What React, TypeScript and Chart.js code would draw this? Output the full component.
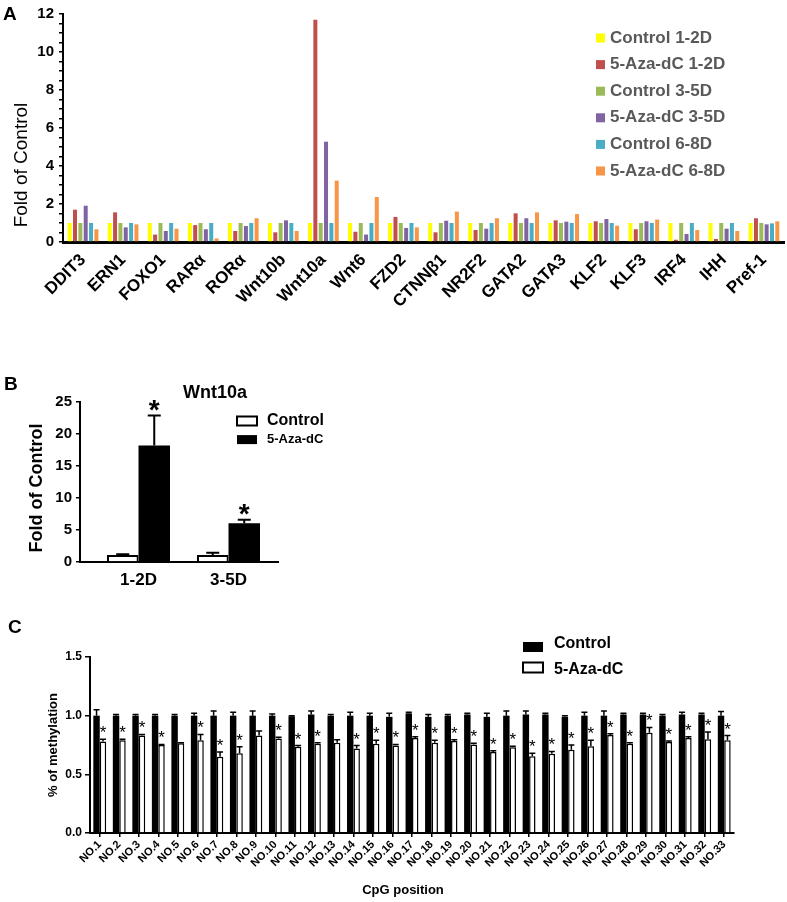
import React, { useEffect, useRef } from 'react';
import { Chart, registerables } from 'chart.js';

Chart.register(...registerables);

const FONT = '"Liberation Sans", Arial, sans-serif';
Chart.defaults.font.family = FONT;
Chart.defaults.color = '#000';

// ---------- Panel A data ----------
const genes = ['DDIT3', 'ERN1', 'FOXO1', 'RARα', 'RORα', 'Wnt10b', 'Wnt10a', 'Wnt6', 'FZD2', 'CTNNβ1', 'NR2F2', 'GATA2', 'GATA3', 'KLF2', 'KLF3', 'IRF4', 'IHH', 'Pref-1'];
const control12 = [1, 1, 1, 1, 1, 1, 1, 1, 1, 1, 1, 1, 1, 1, 1, 1, 1, 1];
const aza12 = [1.7, 1.56, 0.39, 0.89, 0.58, 0.51, 11.7, 0.54, 1.32, 0.51, 0.63, 1.51, 1.14, 1.09, 0.67, 0.12, 0.16, 1.25];
const control35 = [1, 1, 1, 1, 1, 1, 1, 1, 1, 1, 1, 1, 1, 1, 1, 1, 1, 1];
const aza35 = [1.91, 0.77, 0.58, 0.67, 0.84, 1.14, 5.28, 0.39, 0.74, 1.12, 0.7, 1.25, 1.07, 1.21, 1.09, 0.42, 0.7, 0.93];
const control68 = [1, 1, 1, 1, 1, 1, 1, 1, 1, 1, 1, 1, 1, 1, 1, 1, 1, 0.98];
const aza68 = [0.67, 0.93, 0.7, 0.19, 1.25, 0.58, 3.23, 2.37, 0.77, 1.6, 1.25, 1.56, 1.47, 0.86, 1.18, 0.63, 0.58, 1.09];
const seriesA = ['Control 1-2D', '5-Aza-dC 1-2D', 'Control 3-5D', '5-Aza-dC 3-5D', 'Control 6-8D', '5-Aza-dC 6-8D'];

// ---------- Panel B data ----------
const bLabels = ['1-2D', '3-5D'];
const bControl = [1.1, 1.1];
const bControlErr = [0.12, 0.35];
const bAza = [18.2, 6.05];
const bAzaErr = [4.7, 0.55];
const bStarsControl = [false, false];
const bStarsAza = [true, true];

// ---------- Panel C data ----------
const cpgLabels = ['NO.1', 'NO.2', 'NO.3', 'NO.4', 'NO.5', 'NO.6', 'NO.7', 'NO.8', 'NO.9', 'NO.10', 'NO.11', 'NO.12', 'NO.13', 'NO.14', 'NO.15', 'NO.16', 'NO.17', 'NO.18', 'NO.19', 'NO.20', 'NO.21', 'NO.22', 'NO.23', 'NO.24', 'NO.25', 'NO.26', 'NO.27', 'NO.28', 'NO.29', 'NO.30', 'NO.31', 'NO.32', 'NO.33'];
const cControl = [1.0, 1.0, 1.0, 1.0, 1.0, 1.0, 1.0, 1.0, 1.0, 1.0, 0.995, 1.01, 1.0, 1.0, 1.0, 0.99, 1.02, 0.99, 1.0, 1.01, 0.99, 1.0, 1.01, 1.01, 0.99, 1.0, 1.0, 1.01, 1.01, 1.0, 1.01, 1.01, 1.0];
const cControlErr = [0.05, 0.01, 0.01, 0.01, 0.01, 0.02, 0.04, 0.03, 0.04, 0.015, 0.005, 0.03, 0.01, 0.03, 0.02, 0.03, 0.01, 0.02, 0.01, 0.01, 0.03, 0.04, 0.03, 0.01, 0.01, 0.03, 0.04, 0.01, 0.01, 0.01, 0.02, 0.01, 0.035];
const cAza = [0.78, 0.79, 0.83, 0.75, 0.765, 0.79, 0.65, 0.68, 0.83, 0.805, 0.735, 0.76, 0.77, 0.72, 0.76, 0.745, 0.81, 0.77, 0.785, 0.755, 0.69, 0.73, 0.655, 0.675, 0.71, 0.74, 0.835, 0.76, 0.855, 0.775, 0.81, 0.8, 0.79];
const cAzaErr = [0.02, 0.01, 0.01, 0.005, 0.005, 0.05, 0.04, 0.055, 0.04, 0.01, 0.01, 0.01, 0.025, 0.025, 0.03, 0.01, 0.01, 0.02, 0.01, 0.01, 0.01, 0.01, 0.025, 0.02, 0.04, 0.05, 0.01, 0.01, 0.045, 0.01, 0.01, 0.06, 0.04];
const cStars = [true, true, true, true, false, true, true, true, false, true, true, true, false, true, true, true, true, true, true, true, true, true, true, true, true, true, true, true, true, true, true, true, true];

// ---------- plugin: error bars, stars, legend, free texts ----------
const annotate = {
  id: 'annotate',
  afterDatasetsDraw(chart: any, _a: any, opts: any) {
    const ctx = chart.ctx;
    chart.data.datasets.forEach((ds: any, di: number) => {
      if (!ds.errors) return;
      const meta = chart.getDatasetMeta(di);
      const yScale = chart.scales[meta.yAxisID];
      meta.data.forEach((el: any, j: number) => {
        const parsed = meta.controller.getParsed(j);
        const v = parsed.y;
        const yTop = yScale.getPixelForValue(v + ds.errors[j]);
        ctx.save();
        ctx.strokeStyle = '#000';
        ctx.lineWidth = opts.errWidth || 1.5;
        ctx.beginPath();
        ctx.moveTo(el.x, el.y);
        ctx.lineTo(el.x, yTop);
        ctx.moveTo(el.x - opts.cap / 2, yTop);
        ctx.lineTo(el.x + opts.cap / 2, yTop);
        ctx.stroke();
        if (ds.stars && ds.stars[j]) {
          ctx.font = opts.starFont;
          ctx.fillStyle = '#000';
          ctx.textAlign = 'center';
          ctx.textBaseline = 'alphabetic';
          const m = ctx.measureText('*');
          const cy = yTop - opts.starGap;
          ctx.fillText('*', el.x, cy + (m.actualBoundingBoxAscent - m.actualBoundingBoxDescent) / 2);
        }
        ctx.restore();
      });
    });
  },
  afterDraw(chart: any, _a: any, opts: any) {
    const ctx = chart.ctx;
    const lg = opts.legend;
    if (lg) {
      chart.data.datasets.forEach((ds: any, i: number) => {
        const cy = lg.y + i * lg.rowGap;
        const by = lg.boxY ? lg.boxY[i] : cy;
        ctx.save();
        ctx.fillStyle = ds.backgroundColor;
        ctx.fillRect(lg.x, by - lg.boxH / 2, lg.boxW, lg.boxH);
        if (ds.borderWidth) {
          ctx.strokeStyle = ds.borderColor;
          ctx.lineWidth = lg.boxBorder || 2;
          ctx.strokeRect(lg.x, by - lg.boxH / 2, lg.boxW, lg.boxH);
        }
        ctx.fillStyle = lg.color;
        ctx.font = lg.fonts ? lg.fonts[i] : lg.font;
        ctx.textAlign = 'left';
        ctx.textBaseline = 'middle';
        ctx.fillText(ds.label, lg.textX, cy);
        ctx.restore();
      });
    }
    (opts.texts || []).forEach((t: any) => {
      ctx.save();
      ctx.font = t.font;
      ctx.fillStyle = t.color || '#000';
      ctx.textAlign = 'center';
      ctx.textBaseline = 'middle';
      ctx.translate(t.x, t.y);
      if (t.rot) ctx.rotate(t.rot);
      ctx.fillText(t.text, 0, 0);
      ctx.restore();
    });
  },
};

function configA(): any {
  const colors = ['#FFFF00', '#C0504D', '#9BBB59', '#8064A2', '#4BACC6', '#F79646'];
  const values = [control12, aza12, control35, aza35, control68, aza68];
  return {
    type: 'bar',
    data: {
      labels: genes,
      datasets: seriesA.map((label, i) => ({
        label,
        data: values[i],
        backgroundColor: colors[i],
        borderWidth: 0,
      })),
    },
    options: {
      responsive: false,
      animation: false,
      layout: { padding: { top: 8, right: 3, left: 0, bottom: 0 } },
      datasets: { bar: { categoryPercentage: 0.8, barPercentage: 0.75 } },
      plugins: {
        legend: { display: false },
        tooltip: { enabled: false },
        annotate: {
          legend: { x: 596, y: 38, rowGap: 26.6, boxW: 9, boxH: 9, textX: 610, font: `bold 17px ${FONT}`, color: '#595959' },
          texts: [{ text: 'Fold of Control', x: 22, y: 165, rot: -Math.PI / 2, font: `19px ${FONT}` }],
        },
      },
      scales: {
        x: {
          grid: { display: false, drawTicks: false },
          border: { color: '#000', width: 3 },
          ticks: { color: '#000', font: { size: 17, weight: 'bold' }, minRotation: 45, maxRotation: 45, autoSkip: false, padding: 8 },
          afterFit: (a: any) => { a.height = 330 - 242; },
        },
        y: {
          min: 0,
          max: 12,
          grid: { drawOnChartArea: false, drawTicks: true, tickLength: 4, color: '#000', lineWidth: 1.5 },
          border: { color: '#000', width: 2 },
          ticks: {
            stepSize: 0.5,
            autoSkip: false,
            color: '#000',
            font: { size: 15, weight: 'bold' },
            padding: 5,
            callback: (v: number) => (v % 2 === 0 ? String(v) : ''),
          },
          afterFit: (a: any) => { a.width = 63; },
        },
      },
    },
    plugins: [annotate],
  };
}

function configB(): any {
  return {
    type: 'bar',
    data: {
      datasets: [
        { label: 'Control', data: bControl.map((y, i) => ({ x: i, y })), backgroundColor: '#ffffff', borderColor: '#000', borderWidth: 2, errors: bControlErr, stars: bStarsControl },
        { label: '5-Aza-dC', data: bAza.map((y, i) => ({ x: i, y })), backgroundColor: '#000000', borderColor: '#000', borderWidth: 0, errors: bAzaErr, stars: bStarsAza },
      ],
    },
    options: {
      responsive: false,
      animation: false,
      layout: { padding: { top: 27, right: 420 - 278, left: 0, bottom: 0 } },
      datasets: { bar: { categoryPercentage: 0.7, barPercentage: 1 } },
      plugins: {
        legend: { display: false },
        tooltip: { enabled: false },
        annotate: {
          errWidth: 2,
          cap: 13,
          starFont: `bold 28px ${FONT}`,
          starGap: 10,
          legend: { x: 237, y: 46, rowGap: 18.6, boxW: 20, boxH: 9, textX: 267, fonts: [`bold 16px ${FONT}`, `bold 13px ${FONT}`], color: '#000', boxBorder: 2 },
          texts: [
            { text: 'Wnt10a', x: 215, y: 18, font: `bold 18px ${FONT}` },
            { text: 'Fold of Control', x: 37, y: 113, rot: -Math.PI / 2, font: `bold 18px ${FONT}` },
          ],
        },
      },
      scales: {
        x: {
          type: 'linear',
          offset: false,
          min: -0.65,
          max: 1.55,
          afterBuildTicks: (a: any) => { a.ticks = bLabels.map((_, i) => ({ value: i })); },
          grid: { display: false, drawTicks: false, offset: false },
          border: { color: '#000', width: 2 },
          ticks: { color: '#000', font: { size: 17, weight: 'bold' }, padding: 8, autoSkip: false, maxRotation: 0, callback: (v: number) => bLabels[v] },
          afterFit: (a: any) => { a.height = 225 - 187; },
        },
        y: {
          min: 0,
          max: 25,
          grid: { drawOnChartArea: false, drawTicks: true, tickLength: 4, color: '#000', lineWidth: 1.5 },
          border: { color: '#000', width: 2 },
          ticks: { stepSize: 5, color: '#000', font: { size: 15, weight: 'bold' }, padding: 4 },
          afterFit: (a: any) => { a.width = 80; },
        },
      },
    },
    plugins: [annotate],
  };
}

function configC(): any {
  return {
    type: 'bar',
    data: {
      labels: cpgLabels,
      datasets: [
        { label: 'Control', data: cControl, backgroundColor: '#000000', borderColor: '#000', borderWidth: 0, errors: cControlErr },
        { label: '5-Aza-dC', data: cAza, backgroundColor: '#ffffff', borderColor: '#000', borderWidth: 1.5, errors: cAzaErr, stars: cStars },
      ],
    },
    options: {
      responsive: false,
      animation: false,
      layout: { padding: { top: 57, right: 787 - 734, left: 0, bottom: 0 } },
      datasets: { bar: { categoryPercentage: 0.66, barPercentage: 1 } },
      plugins: {
        legend: { display: false },
        tooltip: { enabled: false },
        annotate: {
          errWidth: 1.5,
          cap: 6,
          starFont: `17px ${FONT}`,
          starGap: 10,
          legend: { x: 523, y: 44, rowGap: 26, boxY: [47, 67.5], boxW: 20, boxH: 10, textX: 554, font: `bold 16px ${FONT}`, color: '#000', boxBorder: 2 },
          texts: [
            { text: '% of methylation', x: 53, y: 145, rot: -Math.PI / 2, font: `bold 13px ${FONT}` },
            { text: 'CpG position', x: 403, y: 290, font: `bold 13px ${FONT}` },
          ],
        },
      },
      scales: {
        x: {
          grid: { display: true, drawOnChartArea: false, drawTicks: true, tickLength: 4, color: '#000', lineWidth: 1.5, offset: false },
          border: { color: '#000', width: 2 },
          ticks: { color: '#000', font: { size: 11, weight: 'bold' }, minRotation: 45, maxRotation: 45, autoSkip: false, padding: 1 },
          afterFit: (a: any) => { a.height = 302 - 233; },
        },
        y: {
          min: 0,
          max: 1.5,
          grid: { drawOnChartArea: false, drawTicks: true, tickLength: 5, color: '#000', lineWidth: 1.5 },
          border: { color: '#000', width: 2 },
          ticks: { stepSize: 0.5, color: '#000', font: { size: 12, weight: 'bold' }, padding: 3, callback: (v: number) => v.toFixed(1) },
          afterFit: (a: any) => { a.width = 90; },
        },
      },
    },
    plugins: [annotate],
  };
}

function ChartCanvas({ make, left, top, width, height }: { make: () => any; left: number; top: number; width: number; height: number }) {
  const ref = useRef<HTMLCanvasElement>(null);
  useEffect(() => {
    const chart = new Chart(ref.current as HTMLCanvasElement, make());
    return () => chart.destroy();
  }, []);
  return <canvas ref={ref} width={width} height={height} style={{ position: 'absolute', left, top, width, height }} />;
}

const letterStyle: React.CSSProperties = { position: 'absolute', fontFamily: FONT, fontWeight: 'bold', fontSize: 19, lineHeight: '20px', color: '#000' };

export default function App() {
  return (
    <div style={{ position: 'absolute', left: 0, top: 0, width: 787, height: 902, background: '#fff', overflow: 'hidden' }}>
      <ChartCanvas make={configA} left={0} top={0} width={787} height={330} />
      <ChartCanvas make={configB} left={0} top={375} width={420} height={225} />
      <ChartCanvas make={configC} left={0} top={600} width={787} height={302} />
      <div style={{ ...letterStyle, left: 3, top: 4 }}>A</div>
      <div style={{ ...letterStyle, left: 4, top: 374 }}>B</div>
      <div style={{ ...letterStyle, left: 8, top: 617 }}>C</div>
    </div>
  );
}
